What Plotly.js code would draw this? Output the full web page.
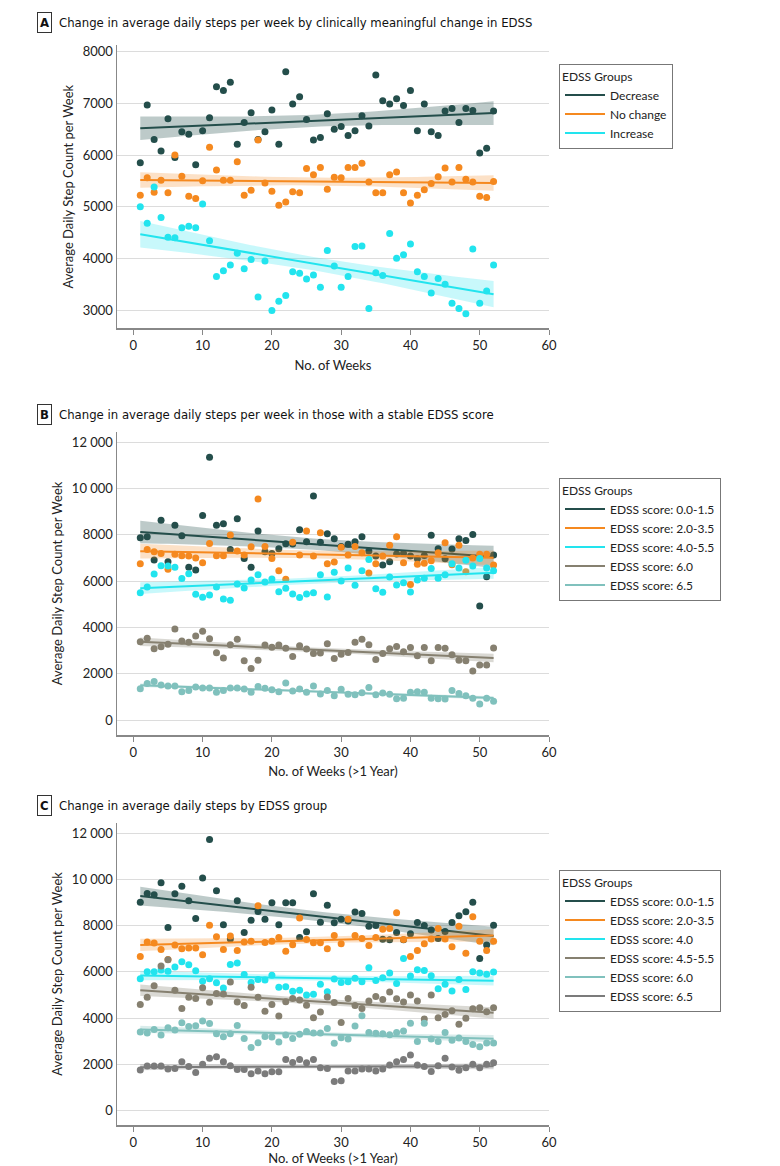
<!DOCTYPE html>
<html>
<head>
<meta charset="utf-8">
<script src="https://cdn.plot.ly/plotly-3.0.1.min.js"></script>
<style>
  html, body { margin: 0; padding: 0; background: #fff; }
  #chart { width: 780px; height: 1166px; }
</style>
</head>
<body>
<div id="chart"></div>
<script>
// weeks 1..52
let weeks = [1,2,3,4,5,6,7,8,9,10,11,12,13,14,15,16,17,18,19,20,21,22,23,24,25,26,
             27,28,29,30,31,32,33,34,35,36,37,38,39,40,41,42,43,44,45,46,47,48,49,50,51,52];

// ---- panel A : change in EDSS ----
let aDecrease = [5850,6970,6300,6080,6700,5950,6450,6400,5810,6470,6720,7320,7250,7410,6210,6630,6820,6300,6450,6870,
                 6210,7610,6990,7130,6690,6290,6340,6800,6500,6550,6380,6470,6760,6560,7550,7050,6990,7090,6960,7250,
                 6470,6990,6450,6380,6850,6900,6630,6900,6860,6040,6130,6850];
let aNoChange = [5220,5560,5280,5510,5270,6000,5590,5200,5160,5500,6150,5710,5510,5510,5870,5220,5320,6290,5460,5300,
                 5030,5090,5290,5270,5740,5620,5760,5340,5570,5560,5760,5760,5840,5480,5270,5270,5620,5670,5270,5070,
                 5220,5330,5450,5580,5750,5480,5760,5530,5480,5200,5180,5490];
let aIncrease = [5000,4680,5380,4790,4410,4400,4590,4620,4590,5050,4340,3650,3760,3870,4100,3800,3980,3250,3950,2990,
                 3170,3280,3740,3710,3600,3680,3440,4150,3850,3440,3650,4230,4240,3030,3720,3670,4480,4000,4070,4280,
                 3740,3650,3330,3610,3500,3130,3030,2930,4180,3130,3370,3870];

// ---- panel B : stable EDSS score ----
let b0015 = [7880,7920,6910,8630,6840,8420,7960,6600,6480,8840,11350,8420,8480,7370,8700,6980,6600,8170,7270,7190,
             7400,7620,7600,8220,7700,9680,7680,8050,7830,7500,7590,7700,7920,7300,7090,6700,6840,7170,7200,7090,
             6970,7110,7980,7400,6970,7390,7830,7760,8020,4930,6190,7130];
let b2035 = [6750,7370,7270,7200,6510,7160,7100,7090,7000,6800,7630,7100,7100,7990,7300,7130,7490,9550,7500,6980,
             6450,6080,7680,7130,8170,7090,8090,6750,6830,7460,7130,7500,7230,6350,6750,7090,7550,7920,6800,5850,
             6730,6770,6880,7230,7660,6710,7550,6410,7000,7160,7160,6700];
let b4055 = [5500,5750,6310,6670,6650,6600,6110,6320,5430,5300,5400,5750,5230,5180,5880,5700,6050,6280,5960,6090,
             5540,5690,5440,5290,5440,5500,6280,5310,6380,6010,6570,5820,6450,6940,5670,5520,6180,5830,5930,5530,
             6050,6120,6550,6120,6280,6750,6570,6900,6650,6980,6570,6450];
let b60 = [3380,3530,3080,3170,3270,3930,3410,3360,3630,3830,3510,2910,2680,3250,3490,2560,2230,2580,3240,3140,
           3240,3100,2740,3210,3070,2870,2890,3300,2660,2840,2920,3360,3490,3250,2610,2870,3080,3180,2950,3130,
           2780,3130,2560,3130,3100,2820,2580,2560,2120,2380,2380,3110];
let b65 = [1350,1580,1660,1510,1470,1470,1220,1270,1430,1380,1380,1200,1270,1380,1380,1340,1200,1450,1370,1310,
           1220,1600,1250,1340,1200,1470,1120,1270,1050,1330,1110,1090,1180,1400,1090,1170,1110,920,940,1200,
           1220,1200,940,920,910,1270,1140,1050,940,690,940,810];

// ---- panel C : by EDSS group ----
let c0015 = [9010,9390,9340,9860,7920,9380,9710,9080,8310,10070,11730,9510,8040,7420,9080,7710,8240,8620,8280,8990,
             8040,8990,8990,7490,7740,9380,8150,8890,8130,8280,8200,8590,8530,7980,8010,7410,7390,7710,7390,7650,
             8140,8010,7810,7450,7750,8140,8430,8600,9010,6580,7160,8020];
let c2035 = [6670,7290,7250,6970,6540,7160,7000,7030,7030,6740,8020,7520,6970,7550,6930,7290,7330,8860,7270,7330,
             7490,6890,7170,8330,7400,7260,7260,7000,7580,7220,8280,7580,7450,7140,7490,7850,7880,8560,7400,6670,
             6930,7220,7420,7880,7420,7090,7980,6810,8390,7330,6930,7330];
// last weeks sit on the cyan line, hard to see
let c40 = [5700,6010,6010,6080,6030,6210,6440,6310,6050,5590,5700,5530,5300,6320,6380,5890,5540,5670,5650,5850,
           5330,5360,5160,5210,5000,5030,5460,5140,5690,5540,5570,5720,5570,6180,5630,5750,5950,5500,6580,5820,
           6090,6060,5830,5270,5460,5170,5670,5240,6010,5950,5900,6000];
let c4555 = [4590,4900,5400,6250,6530,5210,4420,4900,4850,5310,4690,5070,5040,5560,4700,4540,5330,4900,4300,4590,
             4090,4710,4850,4780,4560,4020,4260,4910,4680,3810,4850,4540,4420,4740,4940,4810,5130,4840,4700,5000,
             4740,3960,5000,4020,4160,4320,3730,3990,4410,4450,4280,4450];
let c60 = [3400,3350,3510,3270,3580,3480,3800,3640,3670,3870,3770,3320,3190,3320,3680,3120,2730,2930,3200,3180,
           2960,3270,3120,3300,3420,3350,3350,3550,2910,3150,3090,3660,4100,3380,3340,3320,3280,3380,3440,3780,
           2990,3780,3090,2990,3380,3040,3140,2990,2860,2760,2920,2920];
let c65 = [1750,1930,1930,1930,1800,1820,2110,1900,1650,2000,2260,2330,2110,1940,1780,1780,1590,1710,1590,1680,
           1680,2210,2080,2210,2070,2210,1850,1820,1250,1290,1710,1710,1800,1800,1710,1800,1970,2110,2210,2400,
           1970,1900,1690,1940,2260,1880,1740,1850,2000,1850,2000,2070];

// colours
const cDark = '#244e4b', cOrange = '#f5891f', cCyan = '#22e4ee', cBrown = '#868070', cTeal = '#80c1bd', cGray = '#7b7b7b';

// linear fit with 95% band (t ~ 2.01)
function fitLine(xs, ys) {
  let n = ys.length;
  let x = xs.slice(0, n);
  let mx = x.reduce((a, b) => a + b, 0) / n;
  let my = ys.reduce((a, b) => a + b, 0) / n;
  let sxx = 0, sxy = 0;
  for (let i = 0; i < n; i++) {
    sxx += (x[i] - mx) ** 2;
    sxy += (x[i] - mx) * (ys[i] - my);
  }
  let b = sxy / sxx, a = my - b * mx;
  let sse = 0;
  for (let i = 0; i < n; i++) sse += (ys[i] - a - b * x[i]) ** 2;
  let s = Math.sqrt(sse / (n - 2));
  let fit = [], lo = [], hi = [];
  for (let i = 0; i < n; i++) {
    let yhat = a + b * x[i];
    let se = s * Math.sqrt(1 / n + (x[i] - mx) ** 2 / sxx);
    fit.push(yhat); lo.push(yhat - 2.01 * se); hi.push(yhat + 2.01 * se);
  }
  return { x: x, fit: fit, lo: lo, hi: hi };
}

function hexA(hex, a) {
  let r = parseInt(hex.slice(1, 3), 16), g = parseInt(hex.slice(3, 5), 16), b = parseInt(hex.slice(5, 7), 16);
  return `rgba(${r},${g},${b},${a})`;
}

let traces = [];
function addGroup(ys, name, color, ax, legend, bandAlpha) {
  let f = fitLine(weeks, ys);
  let xa = ax === 1 ? 'x' : 'x' + ax, ya = ax === 1 ? 'y' : 'y' + ax;
  traces.push({
    x: f.x.concat(f.x.slice().reverse()), y: f.hi.concat(f.lo.slice().reverse()),
    xaxis: xa, yaxis: ya, type: 'scatter', mode: 'lines', fill: 'toself',
    fillcolor: hexA(color, bandAlpha), line: { width: 0 }, showlegend: false, hoverinfo: 'skip'
  });
  traces.push({
    x: f.x, y: ys, xaxis: xa, yaxis: ya, type: 'scatter', mode: 'markers',
    marker: { color: color, size: 7 }, showlegend: false
  });
  traces.push({
    x: f.x, y: f.fit, xaxis: xa, yaxis: ya, type: 'scatter', mode: 'lines',
    line: { color: color, width: 2 }, name: name, legend: legend
  });
}

addGroup(aDecrease, 'Decrease', cDark, 1, 'legend', 0.3);
addGroup(aNoChange, 'No change', cOrange, 1, 'legend', 0.25);
addGroup(aIncrease, 'Increase', cCyan, 1, 'legend', 0.25);

addGroup(b0015, 'EDSS score: 0.0-1.5', cDark, 2, 'legend2', 0.3);
addGroup(b2035, 'EDSS score: 2.0-3.5', cOrange, 2, 'legend2', 0.25);
addGroup(b4055, 'EDSS score: 4.0-5.5', cCyan, 2, 'legend2', 0.25);
addGroup(b60, 'EDSS score: 6.0', cBrown, 2, 'legend2', 0.3);
addGroup(b65, 'EDSS score: 6.5', cTeal, 2, 'legend2', 0.3);

addGroup(c0015, 'EDSS score: 0.0-1.5', cDark, 3, 'legend3', 0.3);
addGroup(c2035, 'EDSS score: 2.0-3.5', cOrange, 3, 'legend3', 0.25);
addGroup(c40, 'EDSS score: 4.0', cCyan, 3, 'legend3', 0.25);
addGroup(c4555, 'EDSS score: 4.5-5.5', cBrown, 3, 'legend3', 0.3);
addGroup(c60, 'EDSS score: 6.0', cTeal, 3, 'legend3', 0.3);
addGroup(c65, 'EDSS score: 6.5', cGray, 3, 'legend3', 0.3);

const W = 780, H = 1166;
const font = 'Lato, "Open Sans", sans-serif';
const tickFont = { family: font, size: 13, color: '#222' };

function xAxis(title, anchor) {
  return {
    domain: [117 / W, 549 / W], anchor: anchor, range: [-2.36, 60],
    tickvals: [0, 10, 20, 30, 40, 50, 60], ticks: 'outside', ticklen: 5, tickcolor: '#888',
    showline: true, linecolor: '#888', linewidth: 1.5, showgrid: false, zeroline: false,
    tickfont: tickFont, title: { text: title, font: { family: font, size: 13, color: '#222' }, standoff: 8 }
  };
}
function yAxis(anchor, top, bottom, range, vals, texts) {
  return {
    domain: [1 - bottom / H, 1 - top / H], anchor: anchor, range: range,
    tickvals: vals, ticktext: texts, ticks: '', showline: true, linecolor: '#888', linewidth: 1.5,
    gridcolor: '#dcdcdc', gridwidth: 1, zeroline: false, tickfont: tickFont,
    title: { text: 'Average Daily Step Count per Week', font: { family: font, size: 13, color: '#222' }, standoff: 6 }
  };
}

const bigVals = [0, 2000, 4000, 6000, 8000, 10000, 12000];
const bigText = ['0', '2000', '4000', '6000', '8000', '10\u00a0000', '12\u00a0000'];

function legendBox(top) {
  return {
    x: 559 / W, y: 1 - top / H, xanchor: 'left', yanchor: 'top',
    bordercolor: '#777', borderwidth: 1, bgcolor: '#fff',
    font: { family: font, size: 12, color: '#222' },
    title: { text: 'EDSS Groups', font: { family: font, size: 12, color: '#222' } },
    tracegroupgap: 0, itemwidth: 40
  };
}

const titleFont = { family: '"DejaVu Sans Condensed", "Liberation Sans Narrow", sans-serif', size: 13, color: '#111' };
function panelTitle(letter, text, y) {
  return [
    { xref: 'paper', yref: 'paper', x: 37 / W, y: 1 - y / H, xanchor: 'left', yanchor: 'middle',
      text: '<b>' + letter + '</b>', showarrow: false, font: titleFont,
      bordercolor: '#333', borderwidth: 1, borderpad: 2, bgcolor: '#fff' },
    { xref: 'paper', yref: 'paper', x: 57 / W, y: 1 - y / H, xanchor: 'left', yanchor: 'middle',
      text: text, showarrow: false, font: titleFont }
  ];
}

let layout = {
  width: W, height: H, margin: { l: 0, r: 0, t: 0, b: 0 },
  paper_bgcolor: '#fff', plot_bgcolor: '#fff', showlegend: true,
  xaxis: xAxis('No. of Weeks', 'y'),
  yaxis: yAxis('x', 45, 328.3, [2646, 8130], [3000, 4000, 5000, 6000, 7000, 8000],
               ['3000', '4000', '5000', '6000', '7000', '8000']),
  xaxis2: xAxis('No. of Weeks (>1 Year)', 'y2'),
  yaxis2: yAxis('x2', 432, 735, [-648, 12445], bigVals, bigText),
  xaxis3: xAxis('No. of Weeks (>1 Year)', 'y3'),
  yaxis3: yAxis('x3', 823, 1125, [-628, 12446], bigVals, bigText),
  legend: legendBox(64),
  legend2: legendBox(478),
  legend3: legendBox(870),
  annotations: [].concat(
    panelTitle('A', 'Change in average daily steps per week by clinically meaningful change in EDSS', 23),
    panelTitle('B', 'Change in average daily steps per week in those with a stable EDSS score', 415),
    panelTitle('C', 'Change in average daily steps by EDSS group', 805)
  )
};

Plotly.newPlot('chart', traces, layout, { displayModeBar: false, staticPlot: true });
</script>
</body>
</html>
